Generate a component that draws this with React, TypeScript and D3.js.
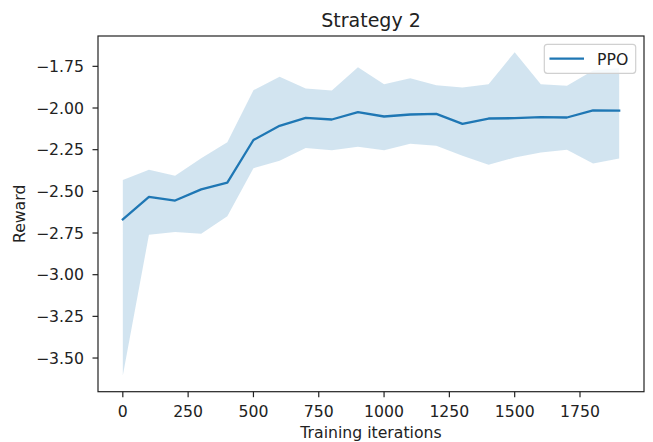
import React from "react";
import * as d3 from "d3";

const iterations = [0, 100, 200, 300, 400, 500, 600, 700, 800, 900, 1000, 1100, 1200, 1300, 1400, 1500, 1600, 1700, 1800, 1900];
const meanReward = [-2.668, -2.533, -2.555, -2.488, -2.448, -2.192, -2.107, -2.059, -2.069, -2.025, -2.051, -2.039, -2.035, -2.095, -2.063, -2.061, -2.055, -2.057, -2.014, -2.016];
const upperReward = [-2.432, -2.371, -2.406, -2.301, -2.206, -1.893, -1.813, -1.883, -1.895, -1.756, -1.857, -1.821, -1.863, -1.877, -1.857, -1.665, -1.857, -1.867, -1.775, -1.76];
const lowerReward = [-3.605, -2.76, -2.744, -2.754, -2.65, -2.361, -2.317, -2.24, -2.254, -2.232, -2.254, -2.214, -2.226, -2.287, -2.341, -2.297, -2.267, -2.25, -2.333, -2.303];
const xTicks = [0, 250, 500, 750, 1000, 1250, 1500, 1750];
const yTicks = [-1.75, -2.0, -2.25, -2.5, -2.75, -3.0, -3.25, -3.5];

const W = 653;
const H = 442;
const left = 98;
const right = 644;
const top = 36;
const bottom = 391.7;
const color = "#1f77b4";
const font = "'DejaVu Sans', sans-serif";
const fs = 15.7;

export default function App() {
  const xMin = d3.min(iterations)!;
  const xMax = d3.max(iterations)!;
  const xPad = (xMax - xMin) * 0.05;
  const yMin = d3.min(lowerReward)!;
  const yMax = d3.max(upperReward)!;
  const yPad = (yMax - yMin) * 0.05;
  const x = d3.scaleLinear().domain([xMin - xPad, xMax + xPad]).range([left, right]);
  const y = d3.scaleLinear().domain([yMin - yPad, yMax + yPad]).range([bottom, top]);

  const idx = iterations.map((_, i) => i);
  const area = d3
    .area<number>()
    .x((i) => x(iterations[i]))
    .y0((i) => y(lowerReward[i]))
    .y1((i) => y(upperReward[i]));
  const line = d3
    .line<number>()
    .x((i) => x(iterations[i]))
    .y((i) => y(meanReward[i]));

  const fmtY = (v: number) => (v < 0 ? "\u2212" : "") + Math.abs(v).toFixed(2);

  return (
    <svg width={W} height={H} style={{ position: "absolute", left: 0, top: 0, background: "#fff" }} fontFamily={font}>
      <rect x={0} y={0} width={W} height={H} fill="#fff" />
      <defs>
        <clipPath id="clip">
          <rect x={left} y={top} width={right - left} height={bottom - top} />
        </clipPath>
      </defs>
      <g clipPath="url(#clip)">
        <path d={area(idx)!} fill={color} fillOpacity={0.2} stroke="none" />
        <path d={line(idx)!} fill="none" stroke={color} strokeWidth={2.3} strokeLinejoin="round" strokeLinecap="square" />
      </g>
      <rect x={left} y={top} width={right - left} height={bottom - top} fill="none" stroke="#222" strokeWidth={1.2} />
      {xTicks.map((t) => (
        <g key={"x" + t}>
          <line x1={x(t)} x2={x(t)} y1={bottom} y2={bottom + 5.5} stroke="#222" strokeWidth={1.2} />
          <text x={x(t)} y={417} textAnchor="middle" fontSize={fs} fill="#222">
            {t}
          </text>
        </g>
      ))}
      {yTicks.map((t) => (
        <g key={"y" + t}>
          <line x1={left - 5.5} x2={left} y1={y(t)} y2={y(t)} stroke="#222" strokeWidth={1.2} />
          <text x={84} y={y(t)} dy="0.36em" textAnchor="end" fontSize={fs} fill="#222">
            {fmtY(t)}
          </text>
        </g>
      ))}
      <text x={(left + right) / 2} y={27} textAnchor="middle" fontSize={19} fill="#222">
        Strategy 2
      </text>
      <text x={(left + right) / 2} y={438} textAnchor="middle" fontSize={fs} fill="#222">
        Training iterations
      </text>
      <text transform={`translate(25, ${(top + bottom) / 2}) rotate(-90)`} textAnchor="middle" fontSize={fs} fill="#222">
        Reward
      </text>
      <g>
        <rect x={544.3} y={44.3} width={91.4} height={29} rx={3} fill="#fff" fillOpacity={0.8} stroke="#d0d0d0" strokeWidth={1.2} />
        <line x1={549.5} x2={584} y1={58.7} y2={58.7} stroke={color} strokeWidth={2.3} />
        <text x={597} y={65} fontSize={fs} fill="#222">
          PPO
        </text>
      </g>
    </svg>
  );
}
